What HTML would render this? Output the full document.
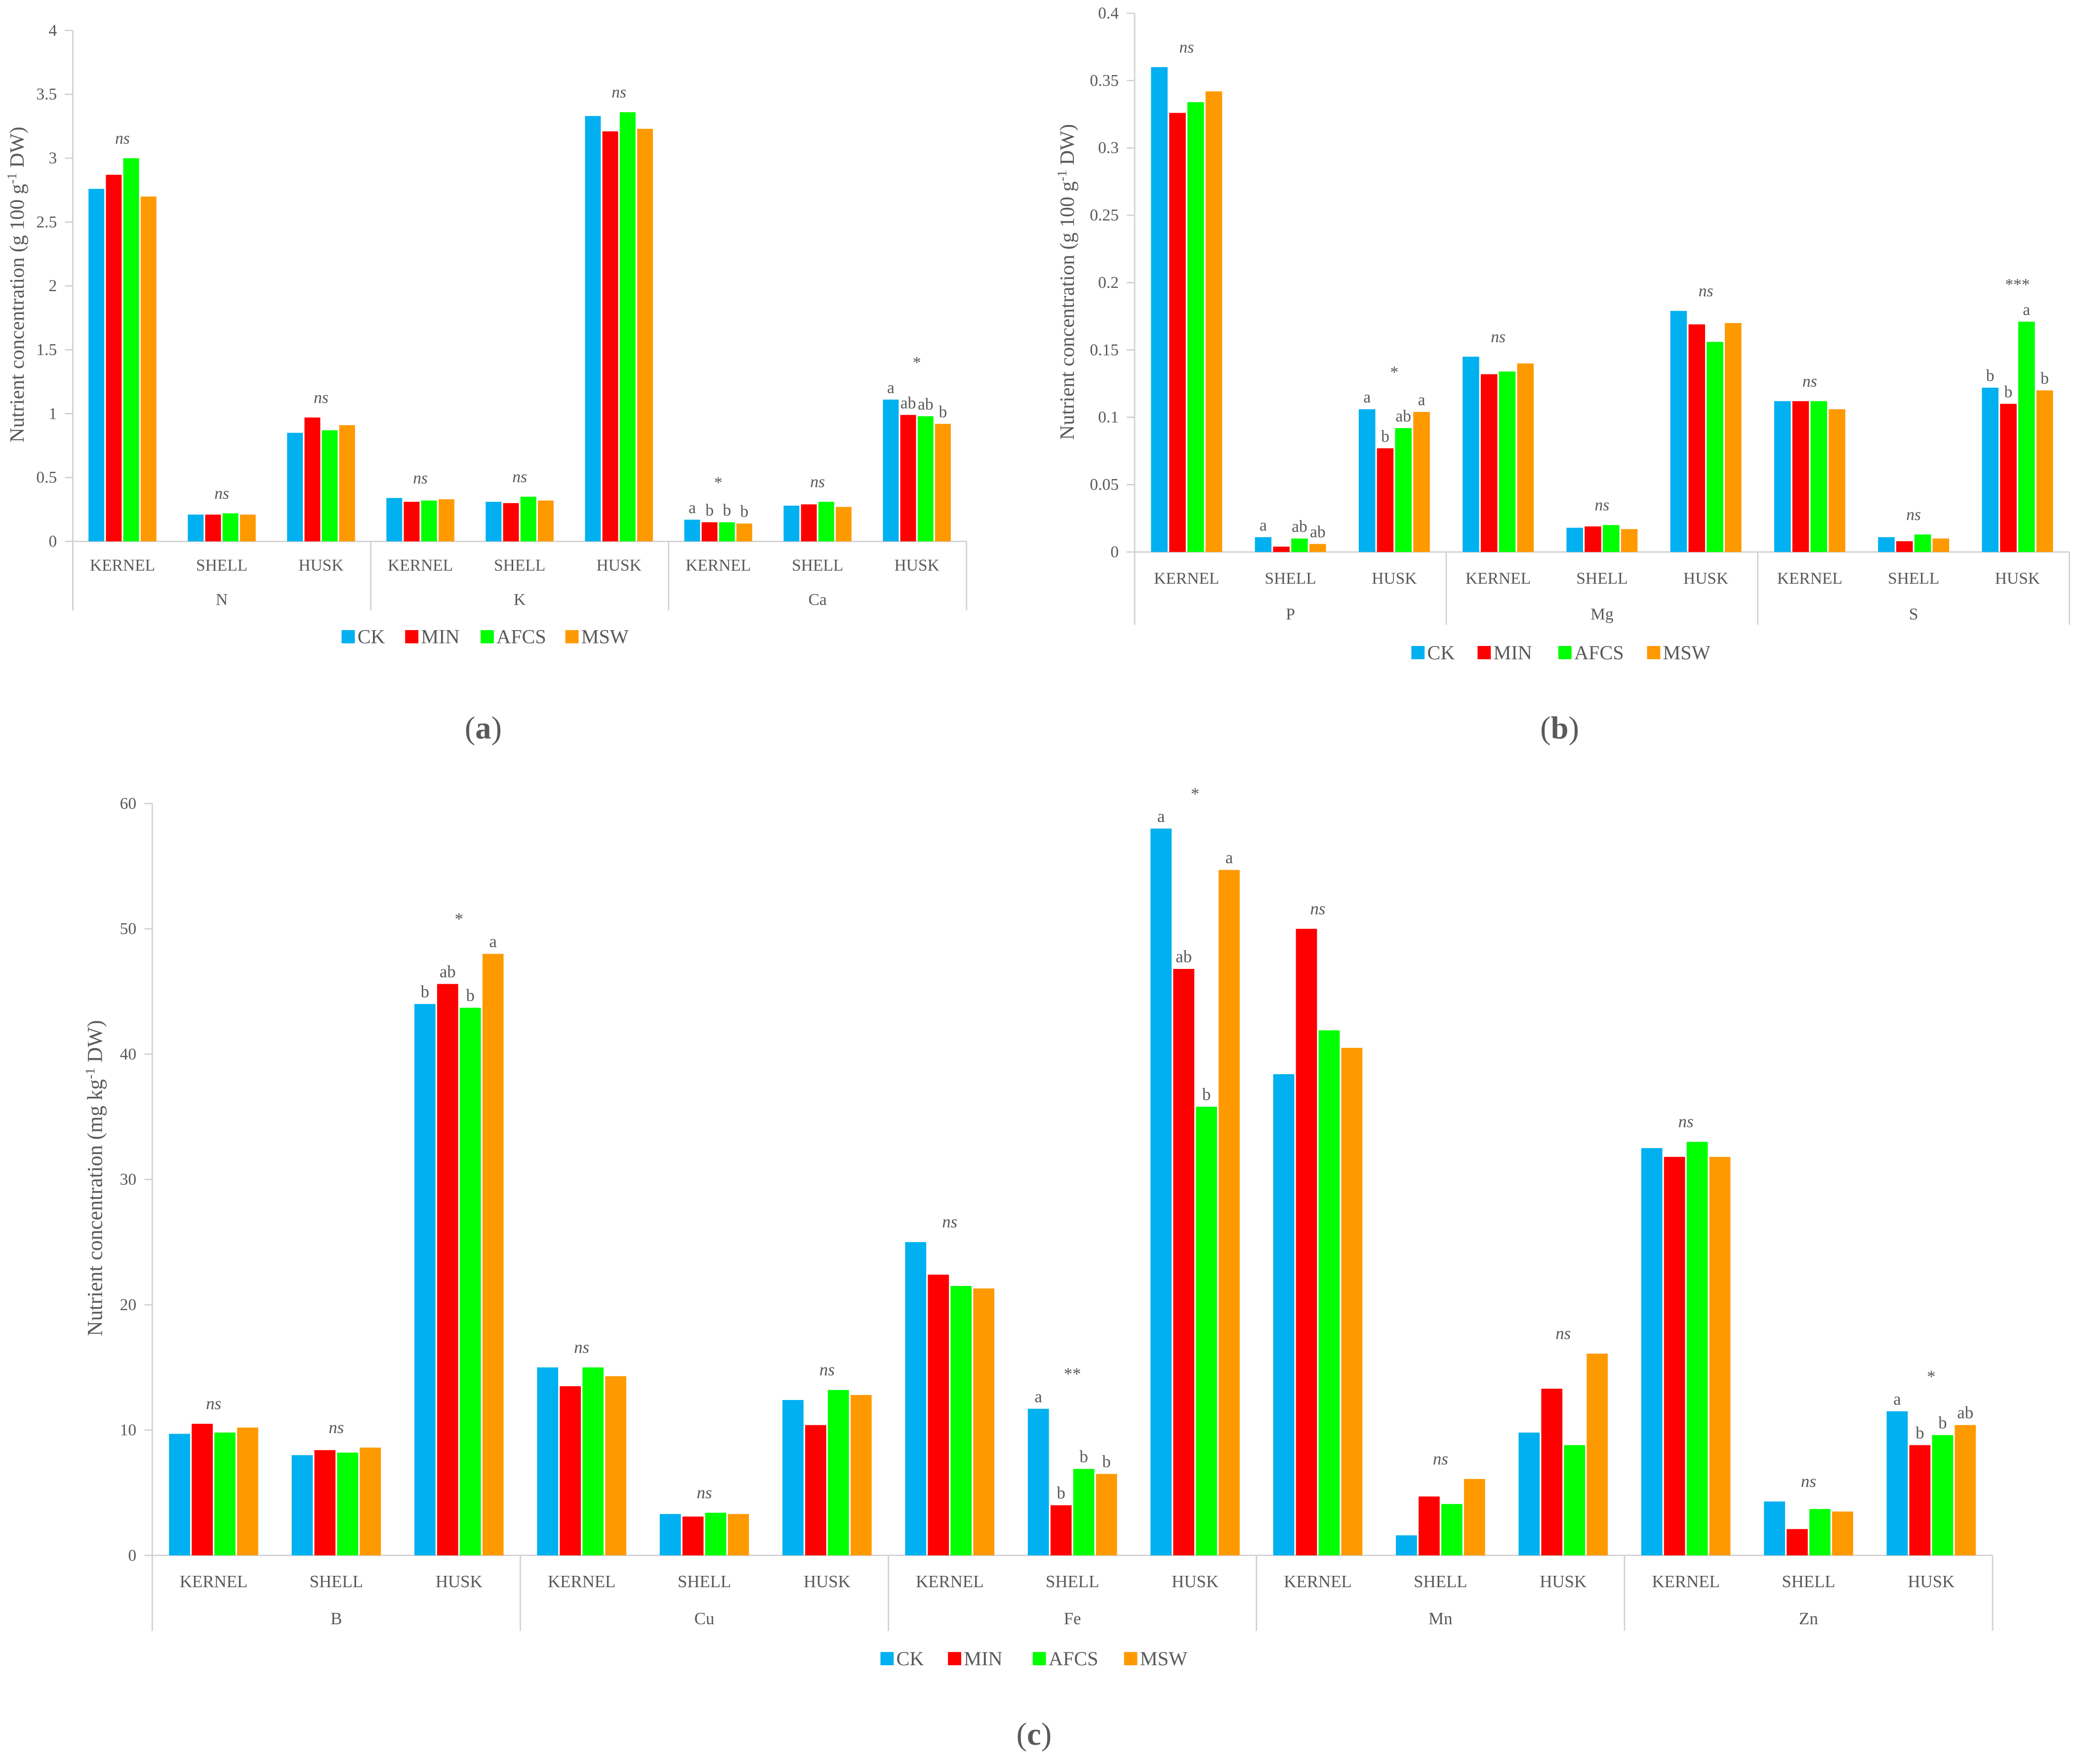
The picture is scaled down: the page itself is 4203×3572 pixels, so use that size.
<!DOCTYPE html>
<html><head><meta charset="utf-8"><style>
html,body{margin:0;padding:0;background:#fff}
svg{display:block}
text{font-family:"Liberation Serif",serif;fill:#595959}
</style></head><body>
<svg id="chart" width="4203" height="3572" viewBox="0 0 1568 1332.6" preserveAspectRatio="none" xmlns="http://www.w3.org/2000/svg"></svg>
<script>
const series = ["CK","MIN","AFCS","MSW"];
const colors = ["#00b0f0","#ff0000","#00ff00","#ff9900"];
const parts = ["KERNEL","SHELL","HUSK"];
// Panel a
const aNutrients = ["N","K","Ca"];
const aValues = [
 [2.76,2.87,3.0,2.7],[0.21,0.21,0.22,0.21],[0.85,0.97,0.87,0.91],
 [0.34,0.31,0.32,0.33],[0.31,0.30,0.35,0.32],[3.33,3.21,3.36,3.23],
 [0.17,0.15,0.15,0.14],[0.28,0.29,0.31,0.27],[1.11,0.99,0.98,0.92]];
const aSig = ["ns","ns","ns","ns","ns","ns","*","ns","*"];
const aLetters = [null,null,null,null,null,null,["a","b","b","b"],null,["a","ab","ab","b"]];
const aTicks = ["0","0.5","1","1.5","2","2.5","3","3.5","4"];
// Panel b
const bNutrients = ["P","Mg","S"];
const bValues = [
 [0.36,0.326,0.334,0.342],[0.011,0.004,0.010,0.006],[0.106,0.077,0.092,0.104],
 [0.145,0.132,0.134,0.140],[0.018,0.019,0.020,0.017],[0.179,0.169,0.156,0.170],
 [0.112,0.112,0.112,0.106],[0.011,0.008,0.013,0.010],[0.122,0.110,0.171,0.120]];
const bSig = ["ns","","*","ns","ns","ns","ns","ns","***"];
const bLetters = [null,["a","","ab","ab"],["a","b","ab","a"],null,null,null,null,null,["b","b","a","b"]];
const bTicks = ["0","0.05","0.1","0.15","0.2","0.25","0.3","0.35","0.4"];
// Panel c
const cNutrients = ["B","Cu","Fe","Mn","Zn"];
const cValues = [
 [9.7,10.5,9.8,10.2],[8.0,8.4,8.2,8.6],[44,45.6,43.7,48],
 [15,13.5,15,14.3],[3.3,3.1,3.4,3.3],[12.4,10.4,13.2,12.8],
 [25,22.4,21.5,21.3],[11.7,4.0,6.9,6.5],[58,46.8,35.8,54.7],
 [38.4,50,41.9,40.5],[1.6,4.7,4.1,6.1],[9.8,13.3,8.8,16.1],
 [32.5,31.8,33,31.8],[4.3,2.1,3.7,3.5],[11.5,8.8,9.6,10.4]];
const cSig = ["ns","ns","*","ns","ns","ns","ns","**","*","ns","ns","ns","ns","ns","*"];
const cLetters = [null,null,["b","ab","b","a"],null,null,null,null,["a","b","b","b"],["a","ab","b","a"],null,null,null,null,null,["a","b","b","ab"]];
const cTicks = ["0","10","20","30","40","50","60"];

const NS="http://www.w3.org/2000/svg";
const svg=document.getElementById('chart');
function mk(tag,attrs,parent,txt){const e=document.createElementNS(NS,tag);for(const k in attrs)e.setAttribute(k,attrs[k]);if(txt!==undefined)e.textContent=txt;(parent||svg).appendChild(e);return e;}

function panel(cfg){
 const g=mk('g',{});
 
 
 const y=v=>cfg.y0-(v/cfg.max)*(cfg.y0-cfg.yTop);
 const n=cfg.values.length, gw=(cfg.x1-cfg.x0)/n;
 const ax=mk('line',{x1:cfg.x0,y1:cfg.yTop,x2:cfg.x0,y2:cfg.sepBottom,stroke:'#d0d0d0','stroke-width':1},g);
 
 
 cfg.ticks.forEach((t,i)=>{
  const v=cfg.max*i/(cfg.ticks.length-1);
  mk('line',{x1:cfg.x0-6,y1:y(v),x2:cfg.x0,y2:y(v),stroke:'#d0d0d0','stroke-width':1},g);
  const tl=mk('text',{x:cfg.x0-12,y:y(v)+4,'text-anchor':'end','font-size':12.5},g,t);
  
  
 });
 const xa=mk('line',{x1:cfg.x0,y1:cfg.y0,x2:cfg.x1,y2:cfg.y0,stroke:'#d0d0d0','stroke-width':1},g);
 
 
 for(let k=0;k<=cfg.nutrients.length;k++){
  const sx=cfg.x0+k*3*gw;
  mk('line',{x1:sx,y1:cfg.y0,x2:sx,y2:cfg.sepBottom,stroke:'#d0d0d0','stroke-width':1},g);
 }
 const bw=gw*cfg.bwFrac, start=(gw-4*bw)/2;
 cfg.values.forEach((vals,gi)=>{
  const gx=cfg.x0+gi*gw;
  let top=cfg.y0;
  vals.forEach((v,si)=>{
   const bx=gx+start+si*bw;
   const r=mk('rect',{x:bx+0.6,y:y(v),width:bw-1.2,height:cfg.y0-y(v),fill:colors[si]},g);
   
   
   top=Math.min(top,y(v));
   const L=cfg.letters[gi];
   if(L&&L[si]){
    const lt=mk('text',{x:bx+bw/2,y:y(v)-5,'text-anchor':'middle','font-size':cfg.fs,fill:'#000'},g,L[si]);
    
    
   }
  });
  const hasL=!!cfg.letters[gi];
  const s=cfg.sig[gi];
  if(s){
   const st=mk('text',{x:gx+gw/2,y:top-(hasL?cfg.sigOff:(s==='ns'?11:14)),'text-anchor':'middle','font-size':cfg.fs,'font-style':s==='ns'?'italic':'normal',fill:'#000'},g,s);
   
   
  }
  const pl=mk('text',{x:gx+gw/2,y:cfg.partY,'text-anchor':'middle','font-size':cfg.fs},g,parts[gi%3]);
  
  
 });
 cfg.nutrients.forEach((nu,k)=>{
  const t=mk('text',{x:cfg.x0+(k*3+1.5)*gw,y:cfg.nutY,'text-anchor':'middle','font-size':cfg.fs},g,nu);
  
  
 });
 const yt=mk('text',{x:0,y:0,transform:`translate(${cfg.titleX},${cfg.titleY}) rotate(-90)`,'text-anchor':'middle','font-size':cfg.tfs},g);
 
 
 yt.appendChild(document.createTextNode(cfg.title1));
 mk('tspan',{'baseline-shift':'super','font-size':cfg.tfs*0.65},yt,'-1');
 yt.appendChild(document.createTextNode(' DW)'));
 cfg.legX.forEach((lx,i)=>{
  const r=mk('rect',{x:lx,y:cfg.legY-11,width:10,height:10,fill:colors[i]},g);
  
  
  const t=mk('text',{x:lx+12,y:cfg.legY-1,'font-size':cfg.lfs},g,series[i]);
  
  
 });
 const pt=mk('text',{x:cfg.plX,y:cfg.plY,'text-anchor':'middle','font-size':24,fill:'#000'},g);
 
 
 pt.appendChild(document.createTextNode('('));
 mk('tspan',{'font-weight':'bold'},pt,cfg.pl);
 pt.appendChild(document.createTextNode(')'));
}
panel({name:'panel-a',values:aValues,nutrients:aNutrients,sig:aSig,letters:aLetters,ticks:aTicks,max:4,
 x0:55,x1:730,y0:409,yTop:23,sepBottom:461,bwFrac:0.175,partY:431,nutY:457,fs:12.5,tfs:15.5,sigOff:24,
 titleX:18,titleY:215,title1:'Nutrient concentration (g 100 g',legX:[258,306,363,427],legY:487,lfs:15,plX:365,plY:558,pl:'a'});
panel({name:'panel-b',values:bValues,nutrients:bNutrients,sig:bSig,letters:bLetters,ticks:bTicks,max:0.4,
 x0:857,x1:1563,y0:417,yTop:10,sepBottom:472,bwFrac:0.175,partY:441,nutY:468,fs:12.5,tfs:15.5,sigOff:24,
 titleX:811,titleY:213,title1:'Nutrient concentration (g 100 g',legX:[1066,1116,1177,1244],legY:499,lfs:15,plX:1178,plY:558,pl:'b'});
panel({name:'panel-c',values:cValues,nutrients:cNutrients,sig:cSig,letters:cLetters,ticks:cTicks,max:60,
 x0:115,x1:1505,y0:1175,yTop:607,sepBottom:1232,bwFrac:0.185,partY:1199,nutY:1227,fs:13,tfs:16,sigOff:22,
 titleX:77,titleY:890,title1:'Nutrient concentration (mg kg',legX:[665,716,780,849],legY:1259,lfs:15,plX:781,plY:1318,pl:'c'});
</script>
</body></html>
